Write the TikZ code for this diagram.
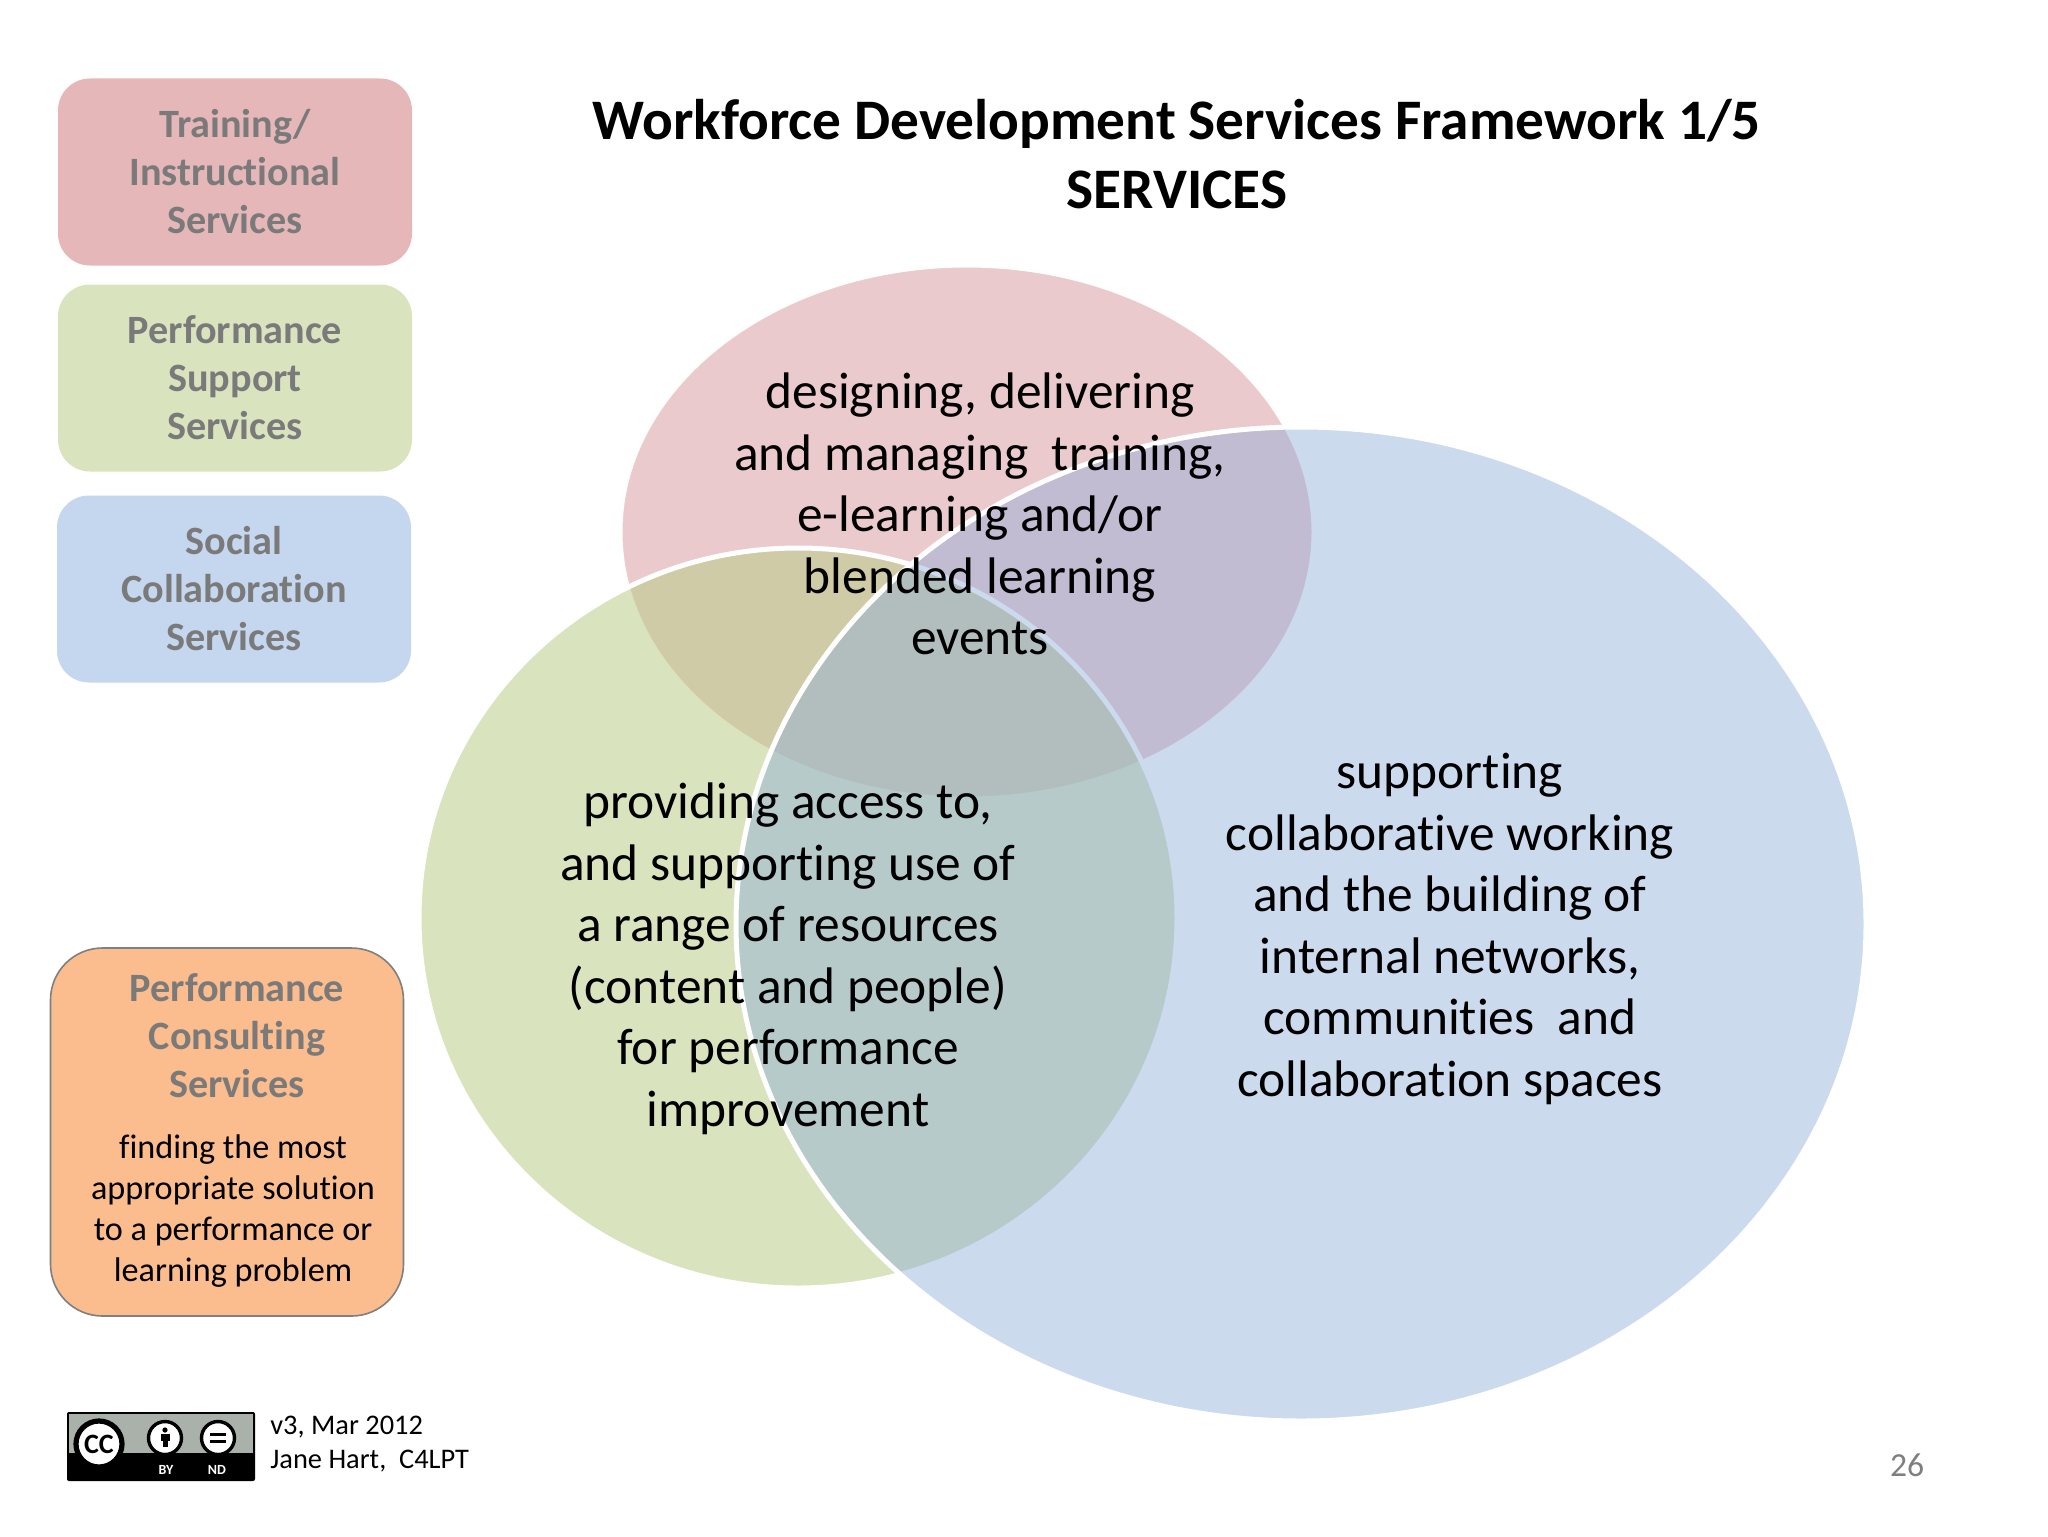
\documentclass[tikz,border=0pt]{standalone}
\usepackage{fontspec}
\setmainfont{Carlito}[Ligatures=NoCommon]
\usetikzlibrary{shapes.geometric}
\definecolor{hdrgray}{HTML}{7A7A7A}
\definecolor{redbox}{HTML}{E6B7B8}
\definecolor{greenbox}{HTML}{D9E4BF}
\definecolor{bluebox}{HTML}{C5D7EE}
\definecolor{orangebox}{HTML}{FBBD8D}
\definecolor{edgegray}{HTML}{7F7F7F}
\definecolor{redset}{HTML}{DFA8AC}
\definecolor{greenset}{HTML}{BBCD88}
\definecolor{blueset}{HTML}{8EADDA}
\definecolor{badgegray}{HTML}{AAB0AA}
\tikzset{
  x=0.5pt,y=-0.5pt,
  sidebox/.style={rounded corners=16pt,minimum width=177pt,minimum height=93.5pt,inner sep=0pt,align=center,text=hdrgray,
    font=\fontsize{20.1}{24}\selectfont\bfseries},
  setshape/.style={ellipse,draw=white,line width=2.5pt,inner sep=0pt},
  settext/.style={align=center,text=black,font=\fontsize{25.7}{30.75}\selectfont},
  badgeicon/.style={circle,draw=black,fill=white,inner sep=0pt},
  badgelabel/.style={text=white,inner sep=0pt,font=\fontsize{7}{8}\selectfont\bfseries},
}
\begin{document}
\begin{tikzpicture}
\useasboundingbox (0,0) rectangle (2048,1536);
\fill[white] (0,0) rectangle (2048,1536);
% title
\node[align=center,font=\fontsize{28.66}{34.7}\selectfont\bfseries] (title) at (1177,154) {Workforce Development Services Framework 1/5\\SERVICES};
% sets
\node[setshape,fill=redset,fill opacity=.6,minimum width=347pt,minimum height=267pt] (redE) at (967,532) {};
\node[setshape,fill=greenset,fill opacity=.55,minimum width=379pt,minimum height=370pt] (greenE) at (798,918) {};
\node[setshape,fill=blueset,fill opacity=.45,minimum width=565pt,minimum height=497pt] (blueE) at (1301,924) {};
\node[settext] (redT) at (980,514) {designing, delivering\\and managing\ \ training,\\e-learning and/or\\blended learning\\events};
\node[settext] (greenT) at (788,959) {providing access to,\\and supporting use of\\a range of resources\\(content and people)\\for performance\\improvement};
\node[settext] (blueT) at (1450,929) {supporting\\collaborative working\\and the building of\\internal networks,\\communities\ \ and\\collaboration spaces};
% side boxes
\node[sidebox,fill=redbox] (b1) at (235,172) {Training/\\Instructional\\Services};
\node[sidebox,fill=greenbox] (b2) at (235,378) {Performance\\Support\\Services};
\node[sidebox,fill=bluebox] (b3) at (234,589) {Social\\Collaboration\\Services};
\node[rounded corners=26pt,minimum width=176.5pt,minimum height=184pt,inner sep=0pt,fill=orangebox,draw=edgegray,line width=.8pt] (b4) at (227,1132) {};
\node[align=center,text=hdrgray,font=\fontsize{20.1}{24}\selectfont\bfseries] (b4h) at (237,1036) {Performance\\Consulting\\Services};
\node[align=center,font=\fontsize{17.1}{20.5}\selectfont] (b4t) at (233,1211) {finding the most\\appropriate solution\\to a performance or\\learning problem};
% licence badge
\fill[black,rounded corners=1pt] (67,1412) rectangle (255,1481);
\fill[badgegray] (69,1414) rectangle (253,1453);
\node[circle,draw=black,fill=white,line width=2.6pt,minimum size=23pt,inner sep=0pt,font=\fontsize{14}{14}\selectfont\bfseries] (cc) at (99,1444) {CC};
\node[badgeicon,line width=1.7pt,minimum size=16.5pt] (by) at (165,1438) {};
\fill[black] (165,1430) circle (2.6);
\fill[black] (160.5,1434) rectangle (169.5,1441);
\fill[black] (162.5,1441) rectangle (167.5,1447);
\node[badgeicon,line width=1.7pt,minimum size=16.5pt] (nd) at (218,1438) {};
\fill[black] (210,1432.5) rectangle (226,1436);
\fill[black] (210,1439.5) rectangle (226,1443);
\node[badgelabel] (byt) at (166,1470) {BY};
\node[badgelabel] (ndt) at (217,1470) {ND};
% footer
\node[anchor=west,align=left,inner sep=0pt,font=\fontsize{14.2}{17.3}\selectfont] (foot) at (270,1444) {v3, Mar 2012\\Jane Hart,\ \ C4LPT};
\node[text=edgegray,font=\fontsize{16.8}{20}\selectfont] (num) at (1907,1465) {26};
\end{tikzpicture}
\end{document}
